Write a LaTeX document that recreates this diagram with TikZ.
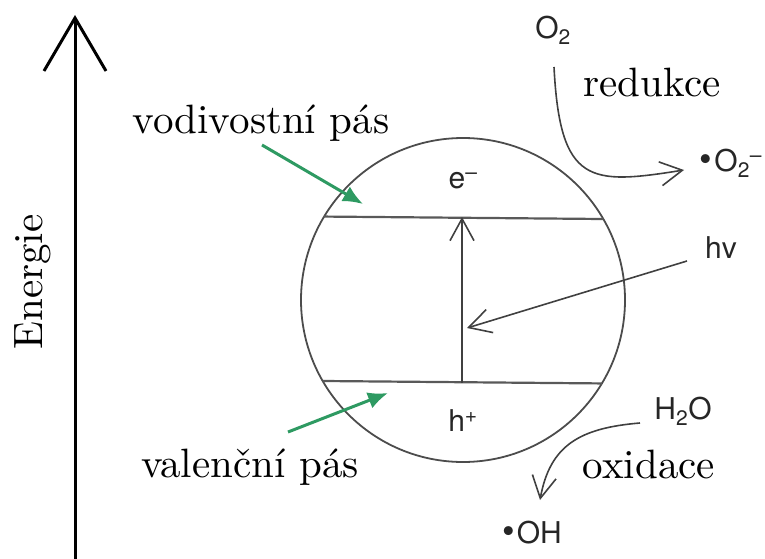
\documentclass[tikz,border=0pt]{standalone}
\usepackage{fontspec}
\newfontfamily\hv{TeX Gyre Heros}
\newfontfamily\lmten{lmroman10-regular.otf}
\usetikzlibrary{arrows.meta}
\definecolor{grn}{RGB}{46,154,98}
\newcommand\radot{{\fontsize{36}{36}\selectfont\textbullet}\hspace{2pt}}
\begin{document}
\begin{tikzpicture}[x=1pt,y=-1pt,
  serif/.style={font=\lmten\fontsize{41}{48}\selectfont, inner sep=0pt, anchor=base},
  chem/.style={font=\hv\fontsize{30}{34}\selectfont, text=black!85, inner sep=0pt},
  band/.style={draw=black!65, line width=2.2pt},
  thinl/.style={draw=black!75, line width=1.6pt},
  barb/.style={-{Straight Barb[length=22pt,width=24pt,line width=1.6pt]}},
  greenarrow/.style={draw=grn, line width=3pt, -{Latex[length=20pt,width=17pt]}}
]
\useasboundingbox (0,0) rectangle (765,559);
% energy axis
\coordinate (ab) at (75,559);
\coordinate (at) at (75,15);
\draw[line width=3pt, -{Straight Barb[length=53pt,width=62pt,line width=3pt]}] (ab) -- (at);
\node[serif, rotate=90] (en) at (42,282) {Energie};
% particle
\node[draw=black!70, line width=1.8pt, circle, minimum size=324pt, inner sep=0pt, outer sep=0pt] (c) at (463,300) {};
\draw[band] (c.149.2) -- (c.30.8);
\draw[band] (c.210.8) -- (c.329.2);
\node[chem] (em) at (463,181) {e\textsuperscript{–}};
\node[chem] (hp) at (463,421) {h\textsuperscript{+}};
\coordinate (vb) at (462,383);
\coordinate (vt) at (462,217);
\draw[thinl, barb] (vb) -- (vt);
% light
\node[chem] (hv) at (721,248) {hv};
\coordinate (hvs) at (687,261);
\coordinate (hve) at (467,328);
\draw[thinl, barb] (hvs) -- (hve);
% labels
\node[serif] (cb) at (261,133) {vodivostní pás};
\node[serif] (vbnd) at (250,477) {valenční pás};
\coordinate (g1s) at (262,145);
\coordinate (g1e) at (363,204);
\draw[greenarrow] (g1s) -- (g1e);
\coordinate (g2s) at (288,432);
\coordinate (g2e) at (388,393);
\draw[greenarrow] (g2s) -- (g2e);
% reduction
\node[chem] (o2) at (553,30) {O\textsubscript{2}};
\node[serif] (red) at (652,97) {redukce};
\node[chem] (o2m) at (731,163) {\radot O\textsubscript{2}\textsuperscript{–}};
\coordinate (rs) at (554,67);
\coordinate (re) at (684,170);
\draw[thinl, barb] (rs) .. controls (560,185) and (590,185) .. (re);
% oxidation
\node[chem] (h2o) at (683,411) {H\textsubscript{2}O};
\node[serif] (ox) at (649,478) {oxidace};
\node[chem] (oh) at (532,533) {\radot OH};
\coordinate (os) at (640,423);
\coordinate (oe) at (540,500);
\draw[thinl, barb] (os) .. controls (580,428) and (550,445) .. (oe);
\end{tikzpicture}
\end{document}
